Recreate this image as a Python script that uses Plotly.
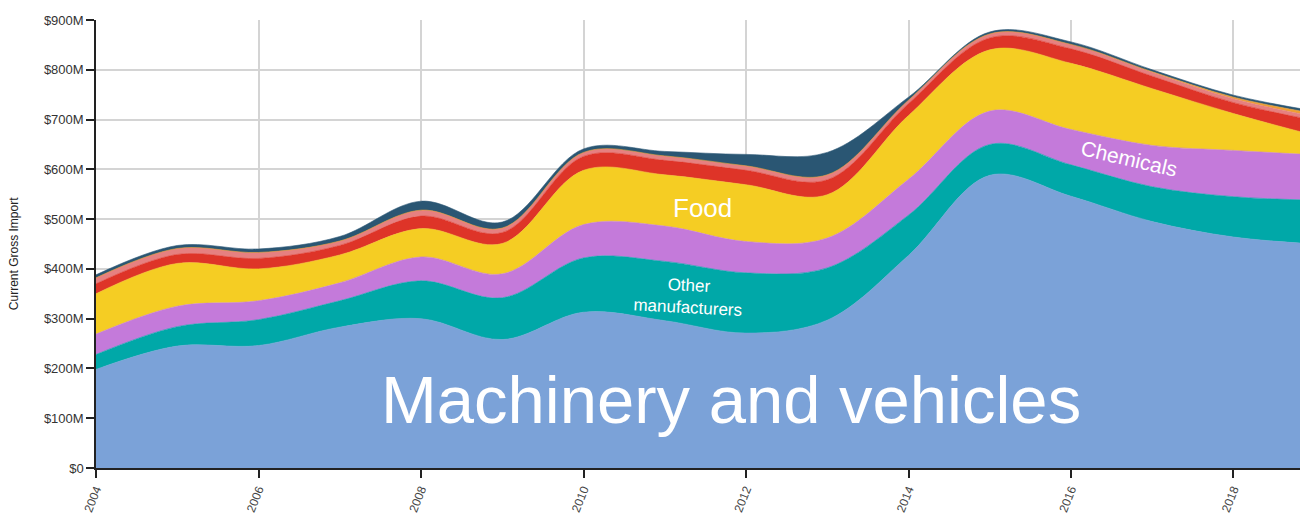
import plotly.graph_objects as go

years = list(range(2004, 2020))

machinery = [198, 245, 246, 283, 300, 258, 313, 296, 271, 297, 427, 588, 546, 495, 464, 450]
other_manuf = [30, 39, 52, 53, 76, 84, 109, 119, 121, 105, 81, 62, 63, 70, 81, 88]
chemicals = [41, 41, 38, 36, 48, 48, 67, 71, 63, 60, 72, 67, 71, 83, 93, 91]
food = [81, 86, 64, 56, 57, 61, 109, 103, 114, 87, 128, 123, 133, 114, 74, 39]
red_cat = [20, 18, 21, 19, 25, 22, 28, 29, 29, 30, 24, 24, 29, 25, 22, 30]
pink_cat = [12, 12, 12, 9, 12, 9, 8, 9, 9, 10, 7, 8, 9, 8, 8, 8]
orange_cat = [0, 0, 0, 0, 0, 0, 0, 0, 0, 0, 0, 0, 0, 1, 3, 6]
dark_cat = [6, 6, 7, 9, 18, 12, 7, 9, 23, 45, 6, 4, 5, 4, 4, 5]

series_names = ["Machinery and vehicles", "Other manufacturers", "Chemicals", "Food",
                "Minerals", "Beverages and tobacco", "Animal and vegetable oils", "Crude materials"]
series_values = [machinery, other_manuf, chemicals, food, red_cat, pink_cat, orange_cat, dark_cat]
colors = ["#7BA2D8", "#00A8A8", "#C47ADA", "#F5CD23", "#DE3428", "#E68080", "#F0A030", "#2A5673"]

y_tickvals = [0, 100, 200, 300, 400, 500, 600, 700, 800, 900]
y_ticktext = ["$0", "$100M", "$200M", "$300M", "$400M", "$500M", "$600M", "$700M", "$800M", "$900M"]
x_tickvals = [2004, 2006, 2008, 2010, 2012, 2014, 2016, 2018]
x_ticktext = [str(v) for v in x_tickvals]

fig = go.Figure()
for name, vals, col in zip(series_names, series_values, colors):
    fig.add_trace(go.Scatter(
        x=years, y=[v * 1e6 for v in vals], name=name,
        mode="lines", stackgroup="one",
        line=dict(width=0.6, color=col, shape="spline", smoothing=1.0),
        fillcolor=col, showlegend=False, hoverinfo="x+y+name",
    ))

fig.update_layout(
    width=1300, height=510,
    margin=dict(l=88, r=0, t=12, b=50),
    paper_bgcolor="white", plot_bgcolor="white",
    font=dict(family="Liberation Sans, Arial, sans-serif", color="#333"),
    xaxis=dict(
        range=[2004, 2018.917], tickvals=x_tickvals, ticktext=x_ticktext,
        tickangle=-68, tickfont=dict(size=12, color="#444"),
        showgrid=True, gridcolor="#d4d4d4", gridwidth=1.5,
        showline=True, linecolor="#222", linewidth=1.5,
        ticks="outside", ticklen=8, tickcolor="#222", tickwidth=1.5,
        zeroline=False, automargin=False,
    ),
    yaxis=dict(
        range=[0, 900e6], tickvals=[v * 1e6 for v in y_tickvals], ticktext=y_ticktext,
        tickfont=dict(size=13, color="#333"),
        showgrid=True, gridcolor="#d4d4d4", gridwidth=1.5,
        showline=True, linecolor="#222", linewidth=1.5,
        ticks="outside", ticklen=8, tickcolor="#222", tickwidth=1.5,
        zeroline=False, automargin=False,
    ),
    annotations=[
        dict(text="Current Gross Import", xref="paper", yref="paper", x=-0.067, y=0.479,
             textangle=-90, showarrow=False, font=dict(size=12, color="#222"),
             xanchor="center", yanchor="middle"),
        dict(text="Machinery and vehicles", x=2011.82, y=137e6, showarrow=False,
             font=dict(size=67, color="white"), xanchor="center", yanchor="middle"),
        dict(text="Food", x=2011.47, y=523e6, showarrow=False,
             font=dict(size=26, color="white"), xanchor="center", yanchor="middle"),
        dict(text="Other<br>manufacturers", x=2011.29, y=344e6, showarrow=False,
             font=dict(size=17, color="white"), xanchor="center", yanchor="middle",
             textangle=3),
        dict(text="Chemicals", x=2016.71, y=621e6, showarrow=False,
             font=dict(size=21, color="white"), xanchor="center", yanchor="middle",
             textangle=13),
    ],
)

fig.write_html("out.html")
